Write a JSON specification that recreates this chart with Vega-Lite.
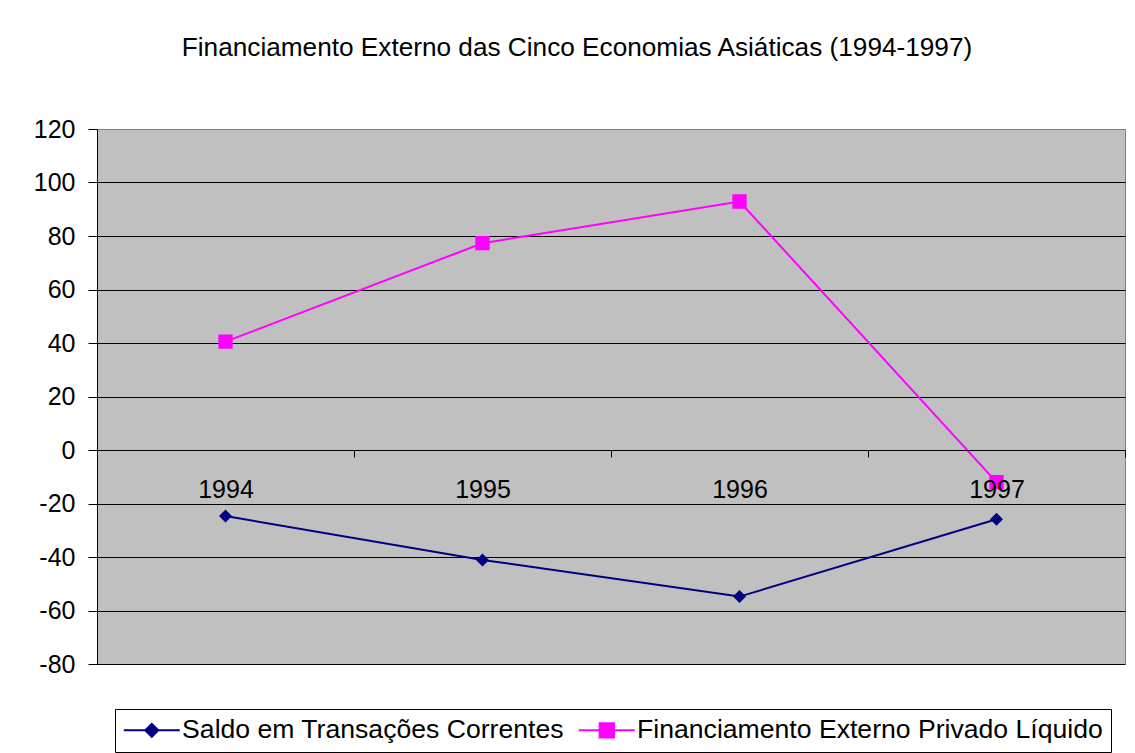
{
  "$schema": "https://vega.github.io/schema/vega-lite/v6.json",
  "autosize": "none",
  "width": 1028,
  "height": 535,
  "padding": {"left": 97, "top": 129, "right": 10, "bottom": 89},
  "background": "white",
  "title": {
    "text": "Financiamento Externo das Cinco Economias Asiáticas (1994-1997)",
    "font": "Liberation Sans",
    "fontSize": 26.2,
    "fontWeight": "normal",
    "color": "black",
    "anchor": "middle",
    "frame": "group",
    "dx": -34,
    "offset": 43,
    "baseline": "middle"
  },
  "config": {
    "view": {"fill": "#C0C0C0", "stroke": "#808080", "strokeWidth": 1},
    "axis": {"labelFont": "Liberation Sans", "labelColor": "black", "titleFont": "Liberation Sans"},
    "legend": {"labelFont": "Liberation Sans"}
  },
  "data": {
    "values": [
      {"ano": "1994", "serie": "Saldo em Transações Correntes", "valor": -24.7},
      {"ano": "1995", "serie": "Saldo em Transações Correntes", "valor": -41.1},
      {"ano": "1996", "serie": "Saldo em Transações Correntes", "valor": -54.8},
      {"ano": "1997", "serie": "Saldo em Transações Correntes", "valor": -25.9},
      {"ano": "1994", "serie": "Financiamento Externo Privado Líquido", "valor": 40.5},
      {"ano": "1995", "serie": "Financiamento Externo Privado Líquido", "valor": 77.3},
      {"ano": "1996", "serie": "Financiamento Externo Privado Líquido", "valor": 92.9},
      {"ano": "1997", "serie": "Financiamento Externo Privado Líquido", "valor": -12.0}
    ]
  },
  "encoding": {
    "x": {
      "field": "ano",
      "type": "ordinal",
      "scale": {"type": "band", "paddingInner": 0, "paddingOuter": 0},
      "axis": {
        "title": null,
        "offset": -214,
        "tickBand": "extent",
        "labelAngle": 0,
        "labelFontSize": 25,
        "labelPadding": 20,
        "tickSize": 7,
        "tickColor": "black",
        "domainColor": "black",
        "grid": false,
        "zindex": 1
      }
    },
    "y": {
      "field": "valor",
      "type": "quantitative",
      "scale": {"domain": [-80, 120], "nice": false, "zero": false},
      "axis": {
        "title": null,
        "values": [-80, -60, -40, -20, 0, 20, 40, 60, 80, 100, 120],
        "labelExpr": "datum.value < 0 ? '-' + abs(datum.value) : '' + datum.value",
        "labelFontSize": 25,
        "tickSize": 9,
        "labelPadding": 13,
        "tickColor": "black",
        "domainColor": "black",
        "gridColor": {"condition": {"test": "datum.value == 120", "value": "#808080"}, "value": "black"},
        "gridOpacity": 1
      }
    },
    "color": {
      "field": "serie",
      "type": "nominal",
      "scale": {
        "domain": ["Saldo em Transações Correntes", "Financiamento Externo Privado Líquido"],
        "range": ["#000080", "#FF00FF"]
      },
      "legend": {
        "orient": "none",
        "legendX": 18,
        "legendY": 580,
        "direction": "horizontal",
        "title": null,
        "strokeColor": "black",
        "fillColor": "white",
        "padding": 8,
        "labelFontSize": 26.6,
        "labelLimit": 2000,
        "labelColor": "black",
        "symbolSize": 169,
        "symbolOffset": 15.5,
        "labelOffset": 17,
        "columnPadding": 10,
        "symbolStrokeWidth": 2,
        "encode": {
          "symbols": {
            "update": {
              "fill": {"scale": "color", "field": "value"},
              "stroke": {"scale": "color", "field": "value"},
              "strokeWidth": {"value": 2},
              "strokeOpacity": {"value": 1},
              "opacity": {"value": 1},
              "fillOpacity": {"value": 1}
            }
          }
        }
      }
    }
  },
  "layer": [
    {
      "mark": {"type": "line", "strokeWidth": 2}
    },
    {
      "mark": {"type": "point", "filled": true, "opacity": 1, "size": 169, "strokeWidth": 0},
      "encoding": {
        "shape": {
          "field": "serie",
          "type": "nominal",
          "scale": {
            "domain": ["Saldo em Transações Correntes", "Financiamento Externo Privado Líquido"],
            "range": ["M-4.31,0H4.31M0,-1L1,0L0,1L-1,0Z", "M-4.31,0H4.31M-1.1,-1.1H1.1V1.1H-1.1Z"]
          }
        }
      }
    }
  ]
}
